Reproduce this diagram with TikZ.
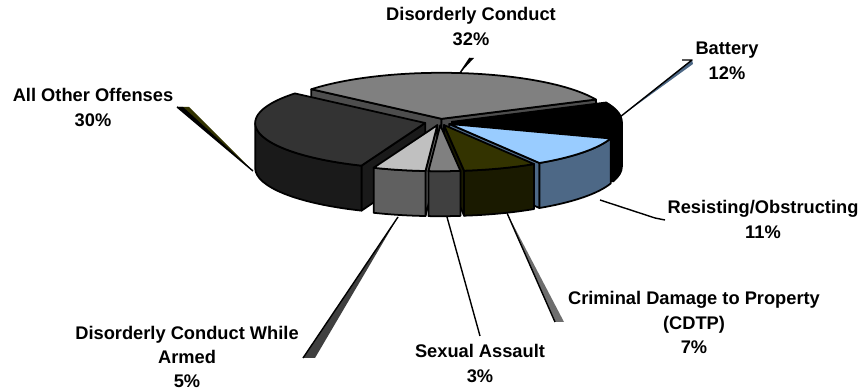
\documentclass[tikz,border=0pt]{standalone}
\usepackage{fontspec}
\setmainfont{Liberation Sans}
\usetikzlibrary{positioning, calc}
\definecolor{DcTop}{RGB}{128,128,128}
\definecolor{DcSide}{RGB}{77,77,77}
\definecolor{ResTop}{RGB}{153,204,255}
\definecolor{ResSide}{RGB}{77,104,134}
\definecolor{CdtpTop}{RGB}{51,51,0}
\definecolor{CdtpSide}{RGB}{26,26,0}
\definecolor{SaTop}{RGB}{128,128,128}
\definecolor{SaSide}{RGB}{64,64,64}
\definecolor{ArmTop}{RGB}{192,192,192}
\definecolor{ArmSide}{RGB}{96,96,96}
\definecolor{AoTop}{RGB}{51,51,51}
\definecolor{AoSide}{RGB}{26,26,26}
\definecolor{LeadGrey}{RGB}{110,110,110}

\def\pcx{440}\def\pcy{269}\def\prx{170}\def\pry{46}\def\ph{45}
% lo, hi, top colour, side colour, explode
\newcommand{\pieslice}[5]{%
  \pgfmathsetmacro\pmid{(#1+#2)/2}%
  \pgfmathsetmacro\pdx{#5*\prx*cos(\pmid)}%
  \pgfmathsetmacro\pdy{#5*\pry*sin(\pmid)}%
  \begin{scope}[shift={({\pcx+\pdx},{\pcy+\pdy})}]
    \pgfmathtruncatemacro\pvis{cos(#2)<0}%
    \ifnum\pvis=1
      \filldraw[pie, fill=#4] (0,0) -- ({\prx*cos(#2)},{\pry*sin(#2)}) -- ++(0,-\ph) -- (0,-\ph) -- cycle;
    \fi
    \pgfmathtruncatemacro\pvis{cos(#1)>0}%
    \ifnum\pvis=1
      \filldraw[pie, fill=#4] (0,0) -- ({\prx*cos(#1)},{\pry*sin(#1)}) -- ++(0,-\ph) -- (0,-\ph) -- cycle;
    \fi
    \pgfmathsetmacro\pa{max(#1,-180)}%
    \pgfmathsetmacro\pb{min(#2,0)}%
    \pgfmathtruncatemacro\pvis{\pa<\pb}%
    \ifnum\pvis=1
      \filldraw[pie, fill=#4] ({\prx*cos(\pa)},{\pry*sin(\pa)}) arc[start angle=\pa, end angle=\pb, x radius=\prx, y radius=\pry]
        -- ++(0,-\ph) arc[start angle=\pb, end angle=\pa, x radius=\prx, y radius=\pry] -- cycle;
    \fi
    \filldraw[pie, fill=#3] (0,0) -- ({\prx*cos(#1)},{\pry*sin(#1)}) arc[start angle=#1, end angle=#2, x radius=\prx, y radius=\pry] -- cycle;
  \end{scope}}

\begin{document}
\begin{tikzpicture}[x=0.02cm, y=0.02cm,
    pie/.style={draw=black, line width=1pt, line join=round},
    lbl/.style={align=center, font=\bfseries\fontsize{10.4}{13.9}\selectfont, inner sep=0pt},
    lead/.style={draw=black, line width=0.8pt, line join=round}]
\useasboundingbox (0,0) rectangle (863,391);

\pieslice{24.8}{140}{DcTop}{DcSide}{0.07}
\pieslice{-18.4}{24.8}{black}{black}{0.07}
\pieslice{-220}{-112}{AoTop}{AoSide}{0.09}
\pieslice{-58}{-18.4}{ResTop}{ResSide}{0.07}
\pieslice{-83.2}{-58}{CdtpTop}{CdtpSide}{0.07}
\pieslice{-112}{-94}{ArmTop}{ArmSide}{0.07}
\pieslice{-94}{-83.2}{SaTop}{SaSide}{0.07}

\node[lbl] (dc) at (471,364.5) {Disorderly Conduct\\32\%};
\node[lbl] (bat) at (727,330) {Battery\\12\%};
\node[lbl] (ao) at (93,283.5) {All Other Offenses\\30\%};
\node[lbl] (res) at (763,171.5) {Resisting/Obstructing\\11\%};
\node[lbl] (cdtp) at (694,68.5) {Criminal Damage to Property\\(CDTP)\\7\%};
\node[lbl] (sa) at (480,27.5) {Sexual Assault\\3\%};
\node[lbl] (arm) at (187,34) {Disorderly Conduct While\\Armed\\5\%};

\coordinate (dcp) at (460,318);   \coordinate (dce) at (470,333);
\coordinate (batp) at (620,274);  \coordinate (bate) at (692,331);
\coordinate (resp) at (600,191);  \coordinate (rese) at (665,171);
\coordinate (cdtpp) at (507,178); \coordinate (cdtpe) at (555,69);
\coordinate (sap) at (447,174);   \coordinate (sae) at (480,55);
\coordinate (armp) at (398,174);  \coordinate (arme) at (303,33);
\coordinate (aop) at (253,220);   \coordinate (aoe) at (177,284);

\fill (dcp) -- (dce) -- ++(4,0) -- cycle;
\draw[lead] (dcp) -- (dce);
\fill[ResSide] (batp) -- (bate) -- ++(1,-4) -- cycle;
\draw[lead] (batp) -- (bate) -- ++(-10,0);
\draw[lead] (resp) -- (655,173) -- (rese);
\fill[LeadGrey] (cdtpp) -- (cdtpe) -- ++(9,0) -- cycle;
\draw[lead] (cdtpp) -- (cdtpe);
\draw[lead] (sap) -- (sae);
\fill[SaSide] (armp) -- (arme) -- ++(12,0) -- cycle;
\draw[lead] (armp) -- (arme);
\fill[CdtpTop] (aop) -- (aoe) -- ++(12,0) -- cycle;
\fill (aop) -- (aoe) -- ++(6,0) -- cycle;
\draw[lead] (aop) -- (aoe);
\end{tikzpicture}
\end{document}
